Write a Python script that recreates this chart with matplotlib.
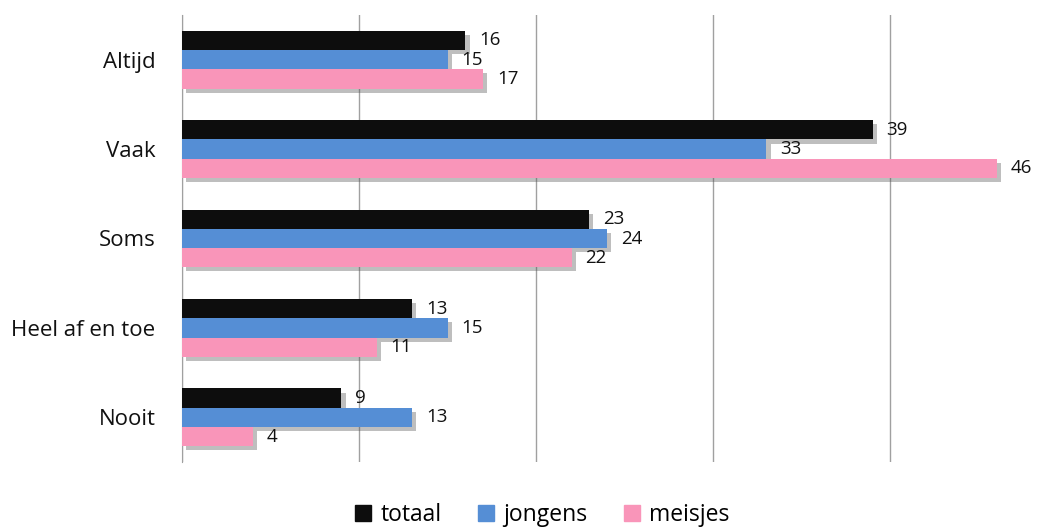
import numpy as np
import matplotlib
matplotlib.use('Agg')
import matplotlib.pyplot as plt
import matplotlib.patheffects as pe
from matplotlib.patches import Patch

categories = ['Altijd', 'Vaak', 'Soms', 'Heel af en toe', 'Nooit']
totaal = [16, 39, 23, 13, 9]
jongens = [15, 33, 24, 15, 13]
meisjes = [17, 46, 22, 11, 4]

series = [('totaal', totaal, '#0d0d0d'),
          ('jongens', jongens, '#558ed5'),
          ('meisjes', meisjes, '#f995b9')]

plt.rcParams['font.family'] = ['Open Sans', 'DejaVu Sans']

fig = plt.figure(figsize=(10.37, 5.29), dpi=100)
ax = fig.add_axes([182/1037, 1-462/529, (1032-182)/1037, (462-15)/529])

y = np.arange(len(categories))
h = 0.215
shadow = [pe.SimplePatchShadow(offset=(3, -3), shadow_rgbFace='#555555', alpha=0.38), pe.Normal()]

for i, (name, vals, col) in enumerate(series):
    pos = y + (i - 1) * h
    bars = ax.barh(pos, vals, height=h, color=col, zorder=3 + i)
    for b in bars:
        b.set_path_effects(shadow)
    for p, v in zip(pos, vals):
        ax.annotate(str(v), (v, p), xytext=(10, 0), textcoords='offset points',
                    va='center', ha='left', fontsize=13.5, color='#111111', zorder=10)

ax.set_xlim(0, 48)
ax.set_ylim(4.5, -0.5)
ax.set_xticks([0, 10, 20, 30, 40])
ax.set_xticklabels([])
ax.grid(axis='x', color='#a0a0a0', linewidth=1, zorder=0)
ax.tick_params(length=0)
ax.set_yticks(y)
ax.set_yticklabels(categories, fontsize=16, color='#111111')
ax.tick_params(axis='y', pad=19)
for s in ['top', 'right', 'bottom']:
    ax.spines[s].set_visible(False)
ax.spines['left'].set_color('#a0a0a0')

handles = [Patch(color=col, label=name) for name, vals, col in series]
fig.legend(handles=handles, loc='lower center', bbox_to_anchor=(0.523, -0.035), ncol=3,
           frameon=False, fontsize=16.5, handlelength=0.7, handleheight=0.7,
           handletextpad=0.4, columnspacing=1.6)

fig.savefig('out.png', dpi=100)
